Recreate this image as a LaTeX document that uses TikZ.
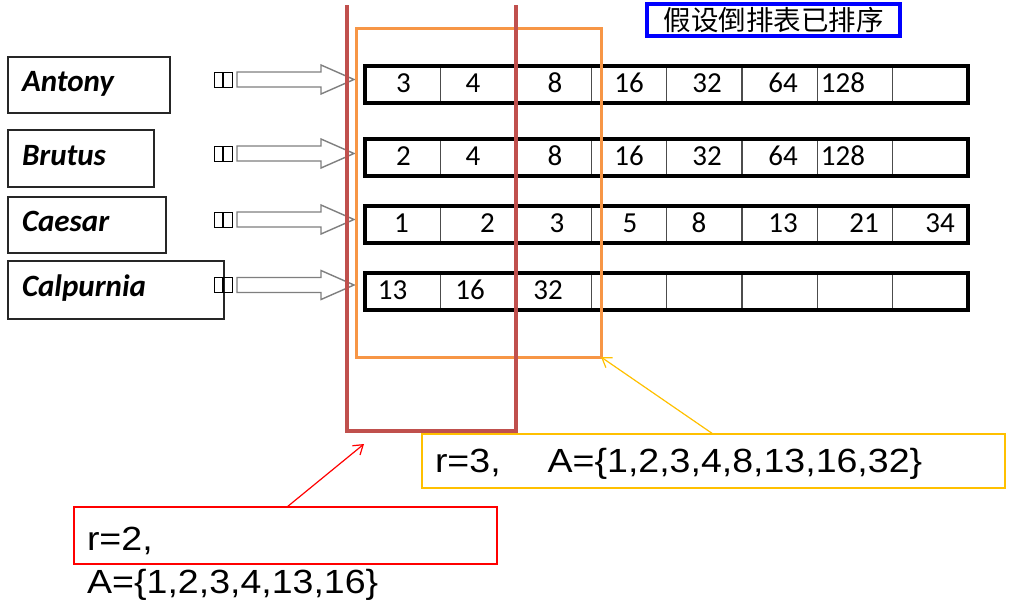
\documentclass[tikz,border=0pt]{standalone}
\usepackage{fontspec}
\setmainfont{Carlito}
\newfontfamily\arialf[FakeStretch=1.12]{Liberation Sans}
\newfontfamily\cjkf{Noto Sans CJK SC}
\usetikzlibrary{calc,arrows.meta}
\definecolor{darkred}{HTML}{C0504D}
\definecolor{orng}{HTML}{F79646}
\definecolor{yel}{HTML}{FFC000}
\definecolor{arrgray}{HTML}{7F7F7F}
\newcommand{\blkarrow}[1]{%
  \draw[blockarrow] (237,#1-7.5) -- (321,#1-7.5) -- (321,#1-14.5) -- (354,#1)
    -- (321,#1+14.5) -- (321,#1+7.5) -- (237,#1+7.5) -- cycle;
  \draw[sq] (214,#1-7.5) rectangle (222.5,#1+7.5);
  \draw[sq] (223.5,#1-7.5) rectangle (232,#1+7.5);}
\begin{document}
\begin{tikzpicture}[x=1pt,y=-1pt,
  termbox/.style={draw=black!85, line width=1.3pt, anchor=north west, outer sep=0pt,
    inner xsep=14pt, inner ysep=0pt, align=left, text height=20pt, text depth=7pt,
    font=\fontsize{31}{34}\selectfont\bfseries\itshape},
  rowbox/.style={draw=black, line width=4pt, anchor=north west, outer sep=0pt,
    minimum width=603pt, minimum height=37pt, inner sep=0pt},
  num/.style={inner sep=0pt, text height=19pt, text depth=0pt, font=\fontsize{29}{32}\selectfont},
  divider/.style={draw=black!70, line width=1.3pt},
  blockarrow/.style={draw=arrgray, line width=1.4pt, fill=white},
  sq/.style={draw=black, line width=0.9pt},
  callout/.style={line width=1.3pt, anchor=north west, outer sep=0pt, inner xsep=13pt,
    inner ysep=0pt, align=left, font=\arialf\fontsize{33.5}{38}\selectfont},
  callarrow/.style={line width=1.2pt, -{Straight Barb[length=9pt,width=12pt]}}
]
\useasboundingbox (0,0) rectangle (1015,608);

% term boxes
\node[termbox, minimum width=162pt, minimum height=56pt, text width=134pt] (antony) at (8,57) {Antony};
\node[termbox, minimum width=146pt, minimum height=57pt, text width=118pt] (brutus) at (8,130) {Brutus};
\node[termbox, minimum width=158pt, minimum height=56pt, text width=130pt] (caesar) at (8,197) {Caesar};
\node[termbox, minimum width=216pt, minimum height=58pt, text width=188pt] (calpurnia) at (8,261) {Calpurnia};

% block arrows
\blkarrow{79.5}
\blkarrow{153.5}
\blkarrow{219.5}
\blkarrow{285}

% posting lists
\foreach \n/\t in {1/65.5, 2/139, 3/206, 4/273}{
  \foreach \i in {1,...,7}{
    \draw[divider] (365+\i*75.4,\t) -- (365+\i*75.4,\t+37);
  }
  \node[rowbox] (row\n) at (365,\t) {};
}
\foreach \x/\v in {403.5/3, 473/4, 555/8, 629/16, 707/32, 783/64, 843/128}{
  \node[num] at ($(row1.west)+(\x-365,-1.5)$) {\v};
}
\foreach \x/\v in {403.5/2, 473/4, 555/8, 629/16, 707/32, 783/64, 843/128}{
  \node[num] at ($(row2.west)+(\x-365,-1.5)$) {\v};
}
\foreach \x/\v in {401.5/1, 487.5/2, 557/3, 630/5, 699/8, 783/13, 864/21, 940/34}{
  \node[num] at ($(row3.west)+(\x-365,-1.5)$) {\v};
}
\foreach \x/\v in {392.5/13, 470/16, 548/32}{
  \node[num] at ($(row4.west)+(\x-365,-1.5)$) {\v};
}

% orange window
\node[draw=orng, line width=3pt, anchor=north west, outer sep=0pt, inner sep=0pt,
  minimum width=245pt, minimum height=329pt] (orangebox) at (356,28) {};

% red window (open at top)
\coordinate (redTL) at (347,5);
\coordinate (redBL) at (347,430.5);
\coordinate (redBR) at (516,430.5);
\coordinate (redTR) at (516,5);
\draw[darkred, line width=4pt] (redTL) -- (redBL) -- (redBR) -- (redTR);

% title box
\node[draw=blue, line width=4pt, outer sep=0pt, inner sep=0pt, minimum width=253pt,
  minimum height=32pt, text height=22pt, text depth=2pt,
  font=\cjkf\fontsize{27.5}{30}\selectfont] (title) at (773.5,20) {假设倒排表已排序};

% callouts
\node[callout, draw=yel, minimum width=583pt, minimum height=54pt, text width=557pt,
  text height=23pt, text depth=0pt] (yelbox) at (422,434) {r=3,\hspace*{47pt}A=\{1,2,3,4,8,13,16,32\}};
\node[callout, draw=red, minimum width=423pt, minimum height=57pt, text width=397pt,
  text height=29pt, text depth=0pt] (redbox) at (74,507) {r=2,};
\node[anchor=base west, inner sep=0pt, font=\arialf\fontsize{33.5}{38}\selectfont] (redA)
  at ($(redbox.south west)+(13,29)$) {A=\{1,2,3,4,13,16\}};

\coordinate (redtarget) at (364,444);
\draw[callarrow, red] ($(redbox.north west)+(213,0)$) -- (redtarget);
\draw[callarrow, yel] ($(yelbox.north west)+(291,0)$) -- (orangebox.south east);
\end{tikzpicture}
\end{document}
